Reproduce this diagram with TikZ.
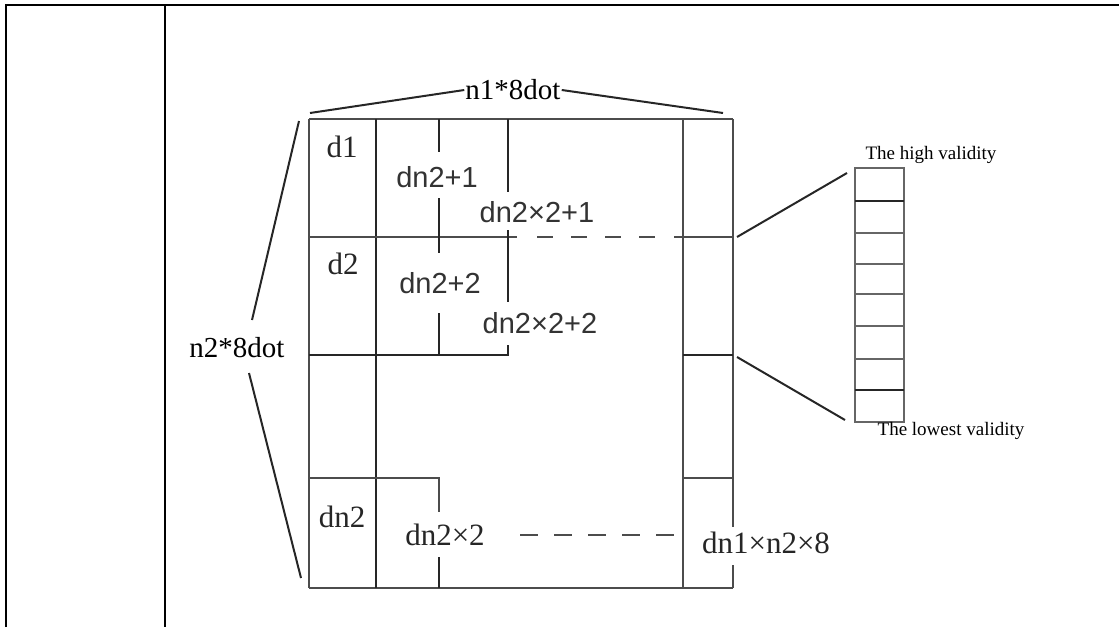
\documentclass[tikz,border=0pt]{standalone}
\usepackage{fontspec}
\setmainfont{Liberation Serif}
\newfontfamily\sansf{Liberation Sans}
\begin{document}
\begin{tikzpicture}[x=1pt,y=-1pt,
  frameline/.style={line width=1.6pt,black},
  gridline/.style={line width=1.9pt,black!70},
  thinline/.style={line width=1.4pt,black!85},
  dashline/.style={line width=2pt,black!70,dash pattern=on 16pt off 18pt},
  bracket/.style={line width=2pt,black!85},
  cellser/.style={inner sep=0pt,font=\fontsize{31}{32}\selectfont,text=black!85},
  cellsans/.style={inner sep=0pt,font=\sansf\fontsize{29}{30}\selectfont,text=black!80},
  dimlbl/.style={inner sep=1pt,font=\fontsize{29}{30}\selectfont},
  smalllbl/.style={inner sep=0pt,font=\fontsize{19}{20}\selectfont},
  regline/.style={line width=1.6pt,black!60}]
\useasboundingbox (0,0) rectangle (1119,627);
% outer frame
\draw[frameline] (6,627) -- (6,5) -- (1119,5);
\draw[frameline] (165,5) -- (165,627);
% main grid
\draw[gridline] (309,119) -- (733,119);
\draw[gridline] (309,588) -- (733,588);
\draw[gridline] (309,119) -- (309,588);
\draw[thinline] (376,119) -- (376,588);
\draw[gridline] (683,119) -- (683,588);
\draw[gridline] (733,119) -- (733,527);
\draw[gridline] (733,565) -- (733,588);
% rows
\draw[gridline] (309,237) -- (517,237);
\draw[dashline] (537,237) -- (657,237);
\draw[gridline] (674,237) -- (733,237);
\draw[thinline] (309,355) -- (508,355) -- (508,345);
\draw[thinline] (683,355) -- (733,355);
\draw[gridline] (309,478) -- (439,478) -- (439,512);
\draw[gridline] (683,478) -- (733,478);
% inner verticals
\draw[thinline] (439,119) -- (439,152);
\draw[thinline] (439,198) -- (439,253);
\draw[thinline] (439,313) -- (439,355);
\draw[thinline] (439,557) -- (439,588);
\draw[thinline] (508,119) -- (508,192);
\draw[thinline] (508,230) -- (508,302);
% bottom dashed row
\draw[dashline,dash pattern=on 18pt off 16pt] (520,535) -- (683,535);
% cell labels
\node[cellser]  (d1)   at (342,147) {d1};
\node[cellsans] (c21)  at (437,177) {dn2+1};
\node[cellsans] (c41)  at (537,212) {dn2×2+1};
\node[cellser]  (d2)   at (343,264) {d2};
\node[cellsans] (c22)  at (440,283) {dn2+2};
\node[cellsans] (c42)  at (540,323) {dn2×2+2};
\node[cellser]  (dn2)  at (342,517) {dn2};
\node[cellser]  (dnx)  at (445,535) {dn2×2};
\node[cellser]  (dall) at (766,543) {dn1×n2×8};
% dimension labels and brackets
\node[dimlbl] (w) at (513,90) {n1*8dot};
\node[dimlbl] (h) at (237,348) {n2*8dot};
\coordinate (tl) at (310,113);
\coordinate (tr) at (723,113);
\coordinate (lt) at (299,121);
\coordinate (lb) at (301,578);
\coordinate (hu) at (252,320);
\coordinate (hl) at (249,373);
\draw[bracket] (tl) -- (w.west);
\draw[bracket] (w.east) -- (tr);
\draw[bracket] (lt) -- (hu);
\draw[bracket] (lb) -- (hl);
% register
\draw[regline,line width=2pt] (855,168) rectangle (904,422);
\foreach \yy in {233,264,294,326,359}{\draw[regline] (855,\yy) -- (904,\yy);}
\draw[line width=2pt,black!85] (855,201) -- (904,201);
\draw[line width=2pt,black!85] (855,390) -- (904,390);
\coordinate (r1) at (737,237);
\coordinate (r2) at (737,357);
\coordinate (b1) at (847,173);
\coordinate (b2) at (845,420);
\draw[bracket] (r1) -- (b1);
\draw[bracket] (r2) -- (b2);
\node[smalllbl] (hi) at (931,155) {The high validity};
\node[smalllbl] (lo) at (951,431) {The lowest validity};
\end{tikzpicture}
\end{document}
